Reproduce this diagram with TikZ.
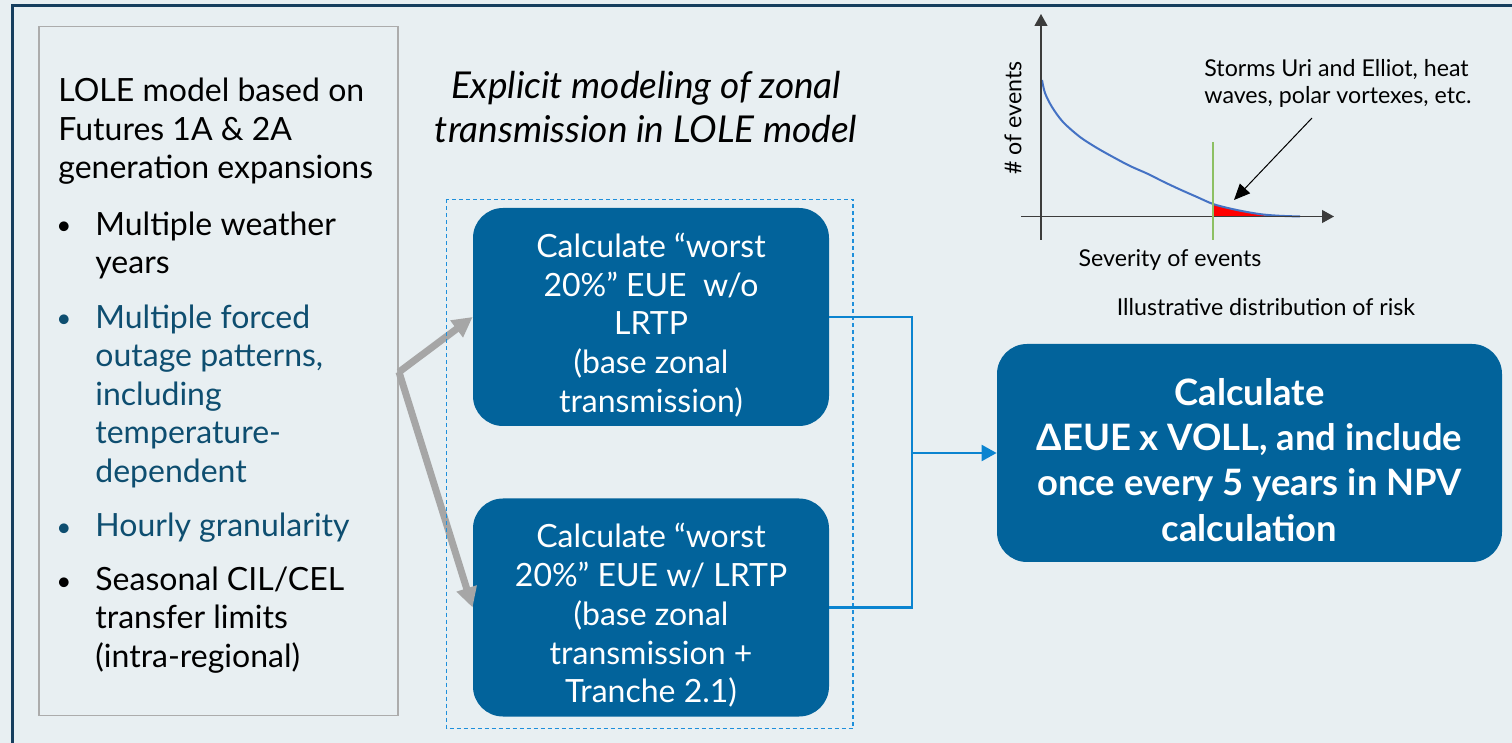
\documentclass[tikz,border=0pt]{standalone}
\usepackage{fontspec}
\setmainfont{Lato}
\usetikzlibrary{arrows.meta}

\definecolor{paneBg}{RGB}{232,239,242}
\definecolor{frameNavy}{RGB}{22,62,94}
\definecolor{boxBlue}{RGB}{2,99,155}
\definecolor{tealText}{RGB}{14,78,112}
\definecolor{linkBlue}{RGB}{11,132,208}
\definecolor{dashBlue}{RGB}{30,143,219}
\definecolor{arrowGray}{RGB}{166,166,166}
\definecolor{borderGray}{RGB}{172,172,172}
\definecolor{axisGray}{RGB}{60,60,60}
\definecolor{curveBlue}{RGB}{68,114,196}
\definecolor{cutGreen}{RGB}{141,192,99}

\begin{document}
\begin{tikzpicture}[x=0.5pt,y=-0.5pt,
    calcBox/.style={fill=boxBlue,rounded corners=15pt,inner sep=0pt,minimum height=109pt},
    boxText/.style={text=white,align=center,inner sep=0pt,anchor=north,font=\fontsize{16}{19.35}\selectfont},
    listText/.style={align=left,inner sep=0pt,anchor=north west,font=\fontsize{16}{19.25}\selectfont},
    dotMark/.style={inner sep=0pt,anchor=base,font=\fontsize{13}{19.25}\selectfont},
    chartText/.style={inner sep=0pt,font=\fontsize{11.6}{13.5}\selectfont},
    grayArrow/.style={arrowGray,line width=3.5pt,-{Triangle[length=10pt,width=10pt]}},
    blueLink/.style={linkBlue,line width=1.15pt}]
    \pgfmathsetmacro{\boxMidX}{651}
    \pgfmathsetmacro{\joinX}{912}
    \pgfmathsetmacro{\axisY}{216.5}
    \pgfmathsetmacro{\cutX}{1213}

    % Hintergrund
    \useasboundingbox (0,0) rectangle (1512,743);
    \fill[paneBg] (0,0) rectangle (1512,743);
    \draw[frameNavy,line width=1.5pt] (1512,6) -- (12,6) -- (12,743);

    % Linker Kasten
    \node[draw=borderGray,line width=0.75pt,minimum width=179.5pt,minimum height=344.5pt,inner sep=0pt] (leftBox) at (218.5,371.2) {};
    \node[listText] (leftHead) at (58,78) {LOLE model based on\\Futures 1A \& 2A\\generation expansions};
    \node[dotMark] (dotA) at (64,235) {\textbullet};
    \node[listText] (itemA) at (95,211.5) {Multiple weather\\years};
    \node[dotMark,text=tealText] (dotB) at (64,328) {\textbullet};
    \node[listText,text=tealText] (itemB) at (95,304.5) {Multiple forced\\outage patterns,\\including\\temperature-\\dependent};
    \node[dotMark,text=tealText] (dotC) at (64,536.5) {\textbullet};
    \node[listText,text=tealText] (itemC) at (95,512.5) {Hourly granularity};
    \node[dotMark] (dotD) at (64,590) {\textbullet};
    \node[listText] (itemD) at (95,566.5) {Seasonal CIL/CEL\\transfer limits\\(intra-regional)};

    % Titel
    \node[anchor=north,align=center,inner sep=0pt,font=\itshape\fontsize{18.5}{22}\selectfont] (zoneTitle) at (646,71) {Explicit modeling of zonal\\transmission in LOLE model};

    % Rechenkaesten
    \node[calcBox,minimum width=178pt] (boxA) at (\boxMidX,317) {};
    \node[calcBox,minimum width=178pt] (boxB) at (\boxMidX,607.5) {};
    \node[calcBox,minimum width=252.5pt] (riskBox) at (1249.5,453) {};
    \node[boxText] (boxAText) at ([yshift=-12.5pt]boxA.north) {Calculate “worst\\20\%” EUE\ \ w/o\\LRTP\\(base zonal\\transmission)};
    \node[boxText] (boxBText) at ([yshift=-12.5pt]boxB.north) {Calculate “worst\\20\%” EUE w/ LRTP\\(base zonal\\transmission +\\Tranche 2.1)};
    \node[boxText,font=\bfseries\fontsize{18.2}{22.65}\selectfont] (riskText) at ([yshift=-17.1pt]riskBox.north) {Calculate\\ΔEUE x VOLL, and include\\once every 5 years in NPV\\calculation};

    % Pfeile
    \coordinate (forkPt) at (399,372);
    \draw[grayArrow] (forkPt) -- (boxA.west);
    \draw[grayArrow] (forkPt) -- (boxB.west);

    % Gestrichelter Rahmen
    \draw[dashBlue,line width=0.6pt,dash pattern=on 2pt off 1.5pt] (446.5,199.5) rectangle (853,728.5);

    % Verbindung
    \coordinate (joinPt) at (\joinX,453);
    \draw[blueLink] (boxA.east) -| (joinPt);
    \draw[blueLink] (boxB.east) -| (joinPt);
    \draw[blueLink,-{Triangle[length=7.5pt,width=8pt]}] (joinPt) -- (riskBox.west);

    % Verteilung
    \fill[red] (\cutX,\axisY) -- plot[smooth] coordinates {(\cutX,204) (1230,208.5) (1250,213) (1272,\axisY)} -- cycle;
    \draw[curveBlue,line width=1pt] plot[smooth] coordinates {(1042,80) (1045,93) (1052,107) (1063,122) (1080,137) (1097,148) (1113,157) (1130,166) (1147,173.5) (1163,181.5) (1180,189.5) (1197,197) (\cutX,204) (1230,208.5) (1247,212) (1263,214.5) (1280,215.8) (1300,\axisY)};
    \draw[axisGray,line width=0.6pt,-{Triangle[length=6pt,width=6.5pt]}] (1041,240) -- (1041,14);
    \draw[axisGray,line width=0.6pt,-{Triangle[length=6pt,width=6.5pt]}] (1021,\axisY) -- (1334,\axisY);
    \draw[cutGreen,line width=0.7pt] (\cutX,142) -- (\cutX,240);

    % Beschriftung
    \coordinate (stormTail) at (1312,118);
    \coordinate (stormTip) at (1234,200);
    \draw[line width=0.5pt,-{Triangle[length=8pt,width=7pt]}] (stormTail) -- (stormTip);
    \node[chartText,anchor=north west,align=left] (stormLabel) at (1204,59) {Storms Uri and Elliot, heat\\waves, polar vortexes, etc.};
    \node[chartText,rotate=90] (countLabel) at (1013,118) {\# of events};
    \node[chartText,anchor=base] (severityLabel) at (1170,267) {Severity of events};
    \node[chartText,anchor=base] (riskLabel) at (1266,316) {Illustrative distribution of risk};
\end{tikzpicture}
\end{document}
